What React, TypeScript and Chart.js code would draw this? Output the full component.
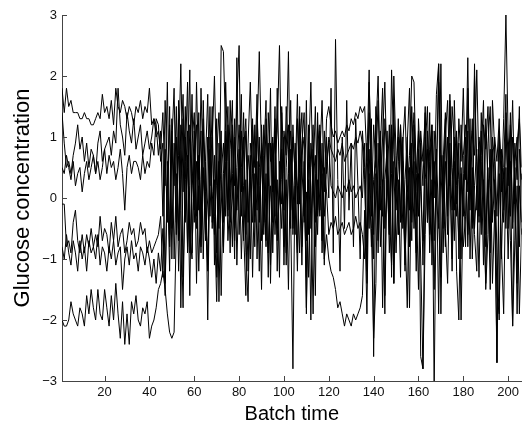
import React, { useEffect, useRef } from "react";
import { Chart, registerables } from "chart.js";

Chart.register(...registerables);

// Tick values
const xTickValues = [20, 40, 60, 80, 100, 120, 140, 160, 180, 200];
const yTickValues = [-3, -2, -1, 0, 1, 2, 3];
const xTitle = "Batch time";
const yTitle = "Glucose concentration";

// Glucose series (batch time 1..206)
const seriesA = [
  1.8, 1.4, 1.8, 1.5, 1.6, 1.4, 1.4, 1.4, 1.3, 1.3,
  1.4, 1.3, 1.3, 1.2, 1.2, 1.3, 1.4, 1.3, 1.7, 1.4,
  1.5, 1.3, 1.6, 1.2, 1.8, 1.5, 1.4, 1.6, 1.5, 1.3,
  1.5, 1.4, 1.2, 1.5, 1.4, 1.6, 1.3, 1.5, 1.4, 1.8,
  1.2, 1.3, 1.0, 1.1, 0.8,
  1.4, 0.2, 1.9, -0.6, 0.9,
  1.8, -0.4, 0.7, 2.2, 0.1, 1.5, -0.8, 1.2, 0.4, -0.2,
  1.9, 0.3, 1.1, -1.0, 0.6, 1.7, -0.3, 0.9, 2.0, 0.2,
  -0.5, 2.5, 2.4, 1.1, -0.2, 0.8, 1.6, -0.7, 0.5, 1.2,
  0.1, 1.4, -0.6, 0.9, 1.9, 0.4, -0.3, 1.0, 2.4, 0.7,
  -0.4, 1.3, 0.2, 1.8, -0.9, 0.6, 1.1, 2.5, 0.3, -0.2,
  1.5, 0.8, -0.5, 1.2, 0.3, 1.7, -0.1, 0.9, 1.4, -0.7,
  0.6, 1.9, 0.2, -0.4, 1.2, 0.7, 1.6, 0.1, 1.3, 1.5,
  1.2, 1.0, 1.1, 0.9, 1.0, 1.1, 1.0, 1.2, 1.1, 1.3,
  1.2, 1.4, 1.3, 1.5, 1.4, 1.5, 0.6, 2.1, -0.3, 1.2,
  0.5, 1.6, -0.2, 1.0, 1.9, 0.3, -0.6, 2.1, 0.8, 0.2,
  1.3, -0.4, 0.9, 1.5, 0.1, 0.7, 2.0, 1.9, 0.4, -0.3,
  1.1, 0.6, 1.4, -0.2, 0.8, 1.2, 0.0, 1.7, 2.2, 0.5,
  -0.5, 1.0, 1.6, 0.2, 1.5, 0.9, -0.1, 1.3, 0.6, 1.8,
  0.3, 2.3, -0.2, 1.1, 0.7, 2.1, 0.4, -0.6, 1.2, 0.8,
  1.5, 0.2, -0.3, 1.0, 0.6, 1.3, 0.1, 1.3, 3.0, 1.0,
  0.4, 1.6, -0.1, 0.9, 1.3, 0.5,
];

const seriesB = [
  1.4, 0.9, 0.5, 0.6, 0.4, 0.7, 0.9, 1.2, 0.8, 1.0,
  0.6, 0.9, 0.5, 0.8, 0.7, 0.4, 0.9, 1.1, 0.6, 0.8,
  0.9, 1.0, 0.7, 1.1, 0.9, 1.8, 1.2, 1.0, 0.7, 1.4,
  1.1, 0.9, 1.3, 0.8, 1.0, 1.2, 0.7, 0.9, 1.1, 0.8,
  1.0, 1.3, 1.2, 0.7, 1.1,
  -0.3, 1.6, 0.4, -1.2, 1.1,
  0.2, 1.5, -0.7, 0.8, 1.7, -0.3, 0.5, 2.1, -0.9, 0.6,
  1.2, -0.2, 1.8, 0.4, -0.6, 1.0, 0.2, 1.5, -1.1, 0.7,
  1.4, 0.3, -0.4, 1.9, 0.6, -0.9, 1.1, 0.2, 1.6, 2.5,
  -0.3, 0.8, 1.3, 0.0, -1.0, 1.2, 0.5, 1.7, -0.4, 0.9,
  0.3, -0.8, 1.4, 0.6, 1.0, -0.3, 1.8, 0.2, -0.5, 1.1,
  0.7, 2.4, -0.2, 1.0, 0.4, -0.9, 1.3, 0.5, -0.3, 1.6,
  -0.6, 0.9, 0.3, 1.5, -0.2, 0.8, -0.7, 1.1, 0.4, 1.0,
  0.8, 0.7, 0.6, 0.8, 0.7, 0.9, 0.6, 0.7, 0.8, 0.9,
  0.8, 1.0, 0.9, 1.1, 0.9, 0.3, -1.2, 1.4, 0.5, -0.6,
  1.1, 2.0, 0.2, -0.3, 1.3, 0.7, -0.9, 0.4, 1.6, -0.2,
  0.6, 1.2, -0.5, 0.3, 1.0, -0.8, 0.7, 1.4, 0.1, -1.5,
  0.9, 0.2, 1.5, -0.4, 0.6, 1.1, -0.7, 0.4, 1.9, 0.8,
  0.0, 1.3, -0.6, 1.6, 0.5, -0.2, 1.0, 0.3, -1.0, 0.7,
  1.2, 0.1, 0.8, -0.5, 2.0, 0.6, -0.3, 1.4, 0.2, -0.8,
  0.9, 1.5, -0.4, 0.3, -2.7, 1.1, 0.5, -0.2, 1.4, 0.7,
  -0.3, 1.0, 0.2, -1.4, 0.8, 0.3,
];

const seriesC = [
  0.5, 0.4, 0.7, 0.5, 0.3, 0.6, 0.2, 0.4, 0.5, 0.1,
  0.4, 0.6, 0.3, 0.5, 0.7, 0.4, 0.6, 0.3, 0.5, 0.8,
  0.4, 0.7, 0.5, 0.6, 0.3, 0.5, 0.8, 0.4, -0.2, 0.5,
  0.7, 0.4, 0.6, 0.6, 0.5, 0.3, 0.7, 0.4, 0.6, 0.5,
  0.9, 0.7, 1.3, 1.2, 0.6,
  0.9, -1.4, 0.3, 1.2, -0.5,
  0.5, 1.0, -1.2, 0.3, 1.3, -0.4, 0.7, -1.6, 0.9, 1.4,
  -0.5, 0.2, -0.9, 1.0, 0.5, -2.0, 0.8, 0.1, -0.6, 1.3,
  -1.7, 0.4, 0.9, -0.3, 1.2, 0.2, -0.8, 1.0, -0.2, 0.6,
  1.1, -0.5, -1.6, 0.7, 0.3, -0.4, 1.2, -1.0, 0.5, 0.8,
  -0.6, 0.4, -1.3, 0.9, 0.1, 1.5, -0.7, 0.3, 0.8, -1.1,
  0.5, 1.2, -0.3, -2.8, 0.6, 0.2, -0.9, 0.7, 1.0, -1.9,
  0.3, -2.0, 0.8, 0.4, -0.6, 1.1, 0.2, -0.3, 0.6, 0.9,
  0.2, 0.1, 0.0, 0.2, 0.1, 0.0, 0.2, 0.1, 0.3, 0.1,
  0.2, 0.0, 0.1, 0.2, 0.0, 0.9, -0.8, 0.4, -0.8, 0.3,
  0.7, -0.4, 1.0, -1.8, 0.3, 0.8, -0.6, 1.2, -1.4, 0.4,
  1.0, -0.3, 0.6, -1.1, 0.2, -1.8, 0.9, -0.5, 0.4, 1.1,
  -2.6, -2.8, 0.3, 0.8, -0.6, 1.2, -3.2, 0.5, -1.9, 0.7,
  0.2, -0.8, 1.0, 0.4, -1.2, 0.6, -0.3, 0.9, -2.0, 0.1,
  0.7, -0.6, 1.3, -1.0, 0.2, 0.8, -0.4, 1.1, 0.0, -1.4,
  0.5, -0.9, 0.8, 0.2, -1.6, -1.9, 0.6, 0.3, -0.5, 0.9,
  -0.7, -2.1, 0.5, -1.9, 0.2, -0.4,
];

const seriesD = [
  -0.1, -0.1, -0.8, -0.7, -0.9, -0.4, -0.2, -0.7, -0.9, -0.6,
  -0.9, -0.6, -0.8, -0.5, -0.8, -0.6, -0.8, -0.3, -0.7, -0.5,
  -0.6, -0.9, -0.4, -0.7, -0.3, -0.8, -0.6, -0.5, -0.9, -0.7,
  -0.4, -0.6, -0.5, -0.8, -0.7, -0.4, -0.6, -0.5, -0.9, -0.7,
  -0.9, -0.8, -0.7, -0.6, -0.3,
  -1.3, 0.8, -0.4, 1.5, -1.0,
  0.9, -0.6, 1.6, -1.8, 0.4, 1.0, -0.9, 0.2, 1.7, -0.4,
  0.6, -1.2, 0.3, 1.3, -0.7, 0.0, 1.5, -0.5, 0.7, -1.3,
  0.9, 0.1, -0.8, 1.1, -0.3, 1.6, 0.4, -1.0, 2.3, -0.6,
  0.5, 1.0, -0.9, -1.7, 0.3, 1.3, -0.4, 0.6, -1.2, 1.2,
  0.2, -0.7, 0.9, -1.4, 0.5, 1.1, -0.5, 0.0, 1.4, -0.8,
  0.3, -1.5, 0.8, 0.2, -0.6, 1.3, 0.4, -1.1, 0.6, -1.8,
  1.0, 0.2, -1.9, 0.7, -0.3, 1.2, -0.9, 0.5, 0.1, -0.6,
  -0.4, -0.5, -0.3, -0.6, -0.5, -0.4, -0.6, -0.5, -0.4, -0.6,
  -0.5, -0.3, -0.5, -0.4, -0.6, -1.0, 0.9, -0.5, 1.3, -2.6,
  0.4, -0.7, 1.1, 0.2, -1.9, 0.6, -0.3, 1.0, -1.4, 0.5,
  -0.6, 1.2, 0.3, -0.9, 0.7, -0.2, 1.5, 0.4, -1.2, 0.8,
  0.1, -0.7, 1.0, -0.4, 1.4, -1.1, 0.6, 0.0, -0.5, 2.2,
  -0.9, 0.6, -0.2, 1.7, 0.3, -0.7, 1.1, -1.0, 0.5, -0.3,
  1.0, -0.8, 0.4, 1.3, -0.5, 0.2, -1.3, 0.7, 1.6, -0.6,
  0.3, -1.5, 1.0, 0.6, -0.9, -2.0, 0.8, -0.4, 1.1, 0.2,
  1.4, -0.5, 0.6, 1.0, -0.8, 0.4,
];

const seriesE = [
  -0.8, -1.0, -0.6, -0.9, -1.1, -0.7, -0.9, -1.2, -0.7, -1.0,
  -0.8, -1.2, -0.7, -0.9, -0.8, -1.0, -0.6, -1.1, -0.8, -0.9,
  -1.2, -0.8, -1.0, -0.7, -1.1, -0.9, -0.8, -1.5, -1.0, -0.8,
  -1.1, -0.7, -1.0, -0.9, -1.2, -0.8, -0.9, -1.1, -0.8, -1.0,
  -1.3, -1.0, -1.4, -0.9, -1.2,
  -0.5, -1.6, 0.6, -0.8, 1.3,
  -1.0, 0.4, -0.5, 1.2, -1.3, 0.3, 1.1, -0.6, -1.0, 0.8,
  -0.3, 1.4, -0.8, 0.5, -0.2, -1.1, 1.0, -0.4, 0.3, -0.9,
  0.6, -1.6, 0.4, 0.9, -0.7, 0.1, 1.2, -0.5, -0.1, 0.8,
  -1.0, 0.2, 1.1, -0.4, 0.7, -1.3, 0.4, -0.2, 1.0, -0.7,
  1.2, -0.4, 0.5, -1.1, 0.9, -0.6, 0.3, -1.3, 1.5, 0.4,
  -0.9, 0.6, 1.1, -0.5, 0.2, -1.2, 0.8, 1.4, -0.4, 0.1,
  -1.3, 0.5, 1.2, -0.8, 0.3, -0.3, 0.9, -1.0, -0.6, -1.0,
  -1.2, -1.3, -1.5, -1.8, -1.7, -1.9, -2.1, -1.9, -2.0, -2.1,
  -1.9, -2.0, -1.9, -1.8, -1.6, -0.2, -1.9, 0.8, -0.5, -2.3,
  -1.4, 0.9, -0.8, 0.3, -1.6, 1.1, -0.2, -1.1, 0.6, -0.9,
  0.3, -1.3, 1.0, -0.5, -1.8, 0.5, -0.7, 1.2, -0.3, 0.4,
  -1.0, -2.8, -0.6, 1.1, -0.9, 0.3, -1.5, 0.8, -0.4, -1.3,
  0.7, -0.5, -1.4, 0.6, -0.2, 1.0, -1.2, -2.0, 0.4, -0.8,
  -0.3, 1.1, -1.0, 0.5, -0.6, -1.2, 0.9, -0.4, 0.3, -1.5,
  -0.6, 0.8, -1.4, -0.2, -2.7, 0.4, -0.8, -1.9, 0.5, -1.0,
  0.6, -2.1, -0.7, 0.2, -1.9, -0.5,
];

const seriesF = [
  -2.0, -2.1, -2.1, -2.0, -1.7, -1.9, -2.0, -2.1, -1.8, -1.9,
  -2.1, -1.6, -1.9, -1.5, -1.8, -2.0, -1.5, -1.9, -2.0, -1.5,
  -1.8, -2.1, -1.6, -2.0, -1.4, -1.9, -2.3, -1.7, -2.4, -1.9,
  -2.4, -1.7, -1.9, -1.6, -2.0, -2.1, -1.8, -1.9, -1.7, -2.3,
  -2.1, -2.0, -1.8, -1.5, -1.4,
  -1.2, -1.5, -1.9, -2.2, -2.3,
  -2.2, -0.5, 1.3, -0.2, -1.8, 0.6, 1.9, -0.9, 0.2, 1.1,
  -1.4, 0.7, -0.6, 1.6, 0.1, -1.2, 0.5, 1.0, -0.3, -1.7,
  0.2, 1.1, -0.9, 0.6, 1.5, -0.4, 0.0, 1.3, -1.1, 0.4,
  1.7, -0.7, 0.3, -1.2, 0.9, 0.5, -0.8, 1.4, 0.2, -1.5,
  0.7, 1.6, -0.9, 0.2, -0.4, 1.3, -1.2, 0.6, -0.1, 1.0,
  -1.1, 0.4, 1.6, -0.6, 0.9, -0.1, 1.5, -0.8, 0.3, -1.3,
  1.2, -0.5, 0.6, -1.6, 1.4, -0.2, 0.4, -1.1, 1.0, 0.0,
  1.8, -0.9, 2.6, 0.3, -1.2, 1.0, -0.5, 1.6, -0.2, 0.9,
  -0.8, 1.3, 0.2, -1.0, 1.1, 0.5, -1.4, 1.9, 0.6, -1.0,
  1.5, -0.9, 0.8, 1.8, -0.5, 0.2, 1.2, -1.3, 2.0, 0.7,
  -0.6, 1.0, 0.3, -1.2, 0.9, 1.8, -0.4, 0.6, -0.9, 1.3,
  0.5, -1.1, 0.8, 1.5, -0.2, -0.7, 1.1, 0.3, 2.2, -1.9,
  0.6, 1.4, -0.3, 0.9, -1.0, 1.6, 0.2, -0.7, 1.2, 0.4,
  -0.8, 1.8, 0.5, -0.4, 2.2, -0.2, 1.0, 0.6, -1.1, 1.3,
  0.2, -0.7, 1.6, 0.8, -0.3, 1.1, -1.0, 0.5, 1.7, -0.5,
  1.2, -0.4, 0.9, 0.3, 1.5, -0.6,
];

const allSeries = [seriesA, seriesB, seriesC, seriesD, seriesE, seriesF];

const AXIS_COLOR = "#444";
const FONT_FAMILY = "'Liberation Sans', Arial, Helvetica, sans-serif";

const inwardTicks = {
  id: "inwardTicks",
  afterDraw(chart: any) {
    const { ctx, chartArea, scales } = chart;
    const xs = scales.x;
    const ys = scales.y;
    ctx.save();
    ctx.strokeStyle = AXIS_COLOR;
    ctx.lineWidth = 1;
    ctx.beginPath();
    xTickValues.forEach((v) => {
      const px = Math.round(xs.getPixelForValue(v)) + 0.5;
      ctx.moveTo(px, chartArea.bottom);
      ctx.lineTo(px, chartArea.bottom - 5);
    });
    yTickValues.forEach((v) => {
      const py = Math.round(ys.getPixelForValue(v)) + 0.5;
      ctx.moveTo(chartArea.left, py);
      ctx.lineTo(chartArea.left + 5, py);
    });
    ctx.stroke();
    ctx.restore();
  },
};

export default function App() {
  const canvasRef = useRef<HTMLCanvasElement | null>(null);

  useEffect(() => {
    const canvas = canvasRef.current;
    if (!canvas) return;
    const chart = new Chart(canvas, {
      type: "line",
      data: {
        datasets: allSeries.map((vals, k) => ({
          label: "Batch " + (k + 1),
          data: vals.map((v, i) => ({ x: i + 1, y: v })),
          borderColor: "#000",
          borderWidth: 1,
          pointRadius: 0,
          tension: 0,
          fill: false,
        })),
      },
      options: {
        animation: false,
        responsive: false,
        devicePixelRatio: 1,
        layout: { padding: { top: 15, right: 0, bottom: 0, left: 0 } },
        plugins: {
          legend: { display: false },
          tooltip: { enabled: false },
        },
        scales: {
          x: {
            type: "linear",
            min: 1,
            max: 206,
            afterBuildTicks: (scale: any) => {
              scale.ticks = xTickValues.map((v) => ({ value: v }));
            },
            afterFit: (scale: any) => {
              scale.height = 44;
            },
            grid: { display: true, drawOnChartArea: false, drawTicks: false },
            border: { display: true, color: AXIS_COLOR, width: 1 },
            ticks: {
              color: "#111",
              padding: 4,
              maxRotation: 0,
              autoSkip: false,
              font: { family: FONT_FAMILY, size: 13 },
            },
            title: {
              display: true,
              text: xTitle,
              color: "#000",
              font: { family: FONT_FAMILY, size: 20, lineHeight: 1 },
              padding: { top: 0, bottom: 1 },
            },
          },
          y: {
            type: "linear",
            min: -3,
            max: 3,
            afterBuildTicks: (scale: any) => {
              scale.ticks = yTickValues.map((v) => ({ value: v }));
            },
            afterFit: (scale: any) => {
              scale.width = 62;
            },
            grid: { display: true, drawOnChartArea: false, drawTicks: false },
            border: { display: true, color: AXIS_COLOR, width: 1 },
            ticks: {
              color: "#111",
              padding: 5,
              autoSkip: false,
              font: { family: FONT_FAMILY, size: 13 },
              callback: (v: any) => (Number(v) < 0 ? "\u2212" + Math.abs(Number(v)) : String(v)),
            },
            title: {
              display: true,
              text: yTitle,
              color: "#000",
              font: { family: FONT_FAMILY, size: 22, lineHeight: 1 },
              padding: { top: 12, bottom: 0 },
            },
          },
        },
      },
      plugins: [inwardTicks],
    });
    return () => chart.destroy();
  }, []);

  return (
    <div style={{ position: "absolute", left: 0, top: 0, width: 523, height: 425, background: "#fff" }}>
      <canvas ref={canvasRef} width={523} height={425} style={{ display: "block" }} />
    </div>
  );
}
